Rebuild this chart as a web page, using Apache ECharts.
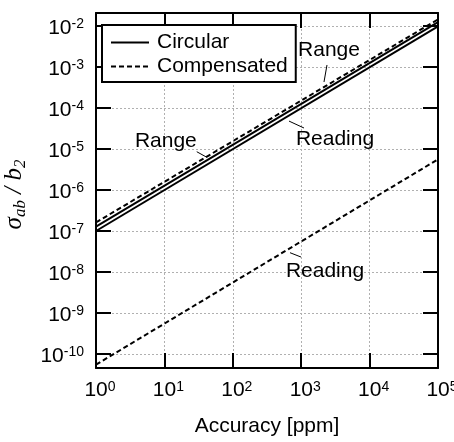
<!DOCTYPE html>
<html>
<head>
<meta charset="utf-8">
<title>Accuracy vs sigma_ab / b2</title>
<script src="https://cdn.jsdelivr.net/npm/echarts@6/dist/echarts.min.js"></script>
<style>
  html, body { margin: 0; padding: 0; background: #fff; }
  #main { width: 454px; height: 442px; }
</style>
</head>
<body>
<div id="main"></div>
<script>
// Accuracy in ppm (log axis endpoints of each straight line)
const accuracyPpm = [1, 100000];

// sigma_ab / b2 for each configuration and accuracy specification
const circularRange = [1.28e-7, 1.25e-2];
const circularReading = [1.0e-7, 9.8e-3];
const compensatedRange = [1.62e-7, 1.45e-2];
const compensatedReading = [5.5e-11, 5.6e-6];

// Annotation text anchors and leader lines, in data units [ppm, sigma]
const noteLabels = ['Range', 'Range', 'Reading', 'Reading'];
const noteAnchors = [[10.5, 1.57e-5], [2548, 2.6e-3], [3119, 1.75e-5], [2228, 1.06e-8]];
const noteLeaders = [
  [[29.7, 8.6e-6], [41.5, 6.3e-6]],
  [[2383, 1.12e-3], [2154, 4.3e-4]],
  [[663, 4.8e-5], [1099, 3.25e-5]],
  [[686, 2.96e-8], [993, 2.32e-8]]
];

const SANS = '"Liberation Sans", Arial, Helvetica, sans-serif';
const SERIF = '"Liberation Serif", "Times New Roman", serif';

const pairs = (xs, ys) => xs.map((x, i) => [x, ys[i]]);

// Decade labels written as 10 with a raised exponent
function powerLabel(v) {
  const e = Math.log10(v);
  const r = Math.round(e);
  if (Math.abs(e - r) > 1e-6) return '';
  return '{b|10}{e|' + r + '}';
}

const tickRich = {
  b: { fontSize: 21, fontFamily: SANS, color: '#000', lineHeight: 21, verticalAlign: 'bottom' },
  e: { fontSize: 14, fontFamily: SANS, color: '#000', lineHeight: 14, verticalAlign: 'top', padding: [0, 0, 12, 0] }
};

const yMin = Math.pow(10, -10.341);
const yMax = Math.pow(10, -1.683);

const frameTick = { show: true, inside: true, length: 15, lineStyle: { color: '#000', width: 2 } };
const frameLine = { show: true, onZero: false, lineStyle: { color: '#000', width: 2 } };
const gridDash = { show: true, lineStyle: { color: '#b0b0b0', width: 1, type: [2, 2] } };

const solid = { color: '#000', width: 2, type: 'solid' };
const dashed = { color: '#000', width: 2, type: [5, 3] };

const option = {
  animation: false,
  backgroundColor: '#fff',
  grid: { left: 96, right: 16, top: 13, bottom: 74, containLabel: false, outerBoundsMode: 'none' },
  legend: {
    left: 102, top: 25,
    orient: 'vertical',
    data: ['Circular', 'Compensated'],
    itemWidth: 38, itemHeight: 14, itemGap: 3,
    padding: [7, 8, 5, 8],
    borderColor: '#000', borderWidth: 2, borderRadius: 0,
    backgroundColor: '#fff',
    itemStyle: { opacity: 0 },
    textStyle: { fontSize: 21, fontFamily: SANS, color: '#000', padding: [0, 0, 0, 3] }
  },
  xAxis: [
    {
      type: 'log', min: 1, max: 100000, position: 'bottom',
      axisLine: frameLine, axisTick: frameTick, splitLine: gridDash,
      axisLabel: { formatter: powerLabel, rich: tickRich, margin: 8, padding: [4, 0, 0, 8] },
      name: 'Accuracy [ppm]', nameLocation: 'middle', nameGap: 48,
      nameTextStyle: { fontSize: 21, fontFamily: SANS, color: '#000' }
    },
    {
      type: 'log', min: 1, max: 100000, position: 'top',
      axisLine: frameLine, axisTick: frameTick,
      axisLabel: { show: false }, splitLine: { show: false }
    }
  ],
  yAxis: [
    {
      type: 'log', min: yMin, max: yMax, position: 'left',
      axisLine: frameLine, axisTick: frameTick, splitLine: gridDash,
      axisLabel: { formatter: powerLabel, rich: tickRich, margin: 12, padding: [4, 0, 0, 0], showMinLabel: false, showMaxLabel: false },
      name: '{s|σ}{sub|ab}{s| / b}{sub|2}', nameLocation: 'middle', nameGap: 55, nameRotate: 90,
      nameTextStyle: {
        padding: [0, 8, 0, 0],
        rich: {
          s: { fontSize: 25, fontFamily: SERIF, fontStyle: 'italic', color: '#000', lineHeight: 31 },
          sub: { fontSize: 17, fontFamily: SERIF, fontStyle: 'italic', color: '#000', verticalAlign: 'bottom' }
        }
      }
    },
    {
      type: 'log', min: yMin, max: yMax, position: 'right',
      axisLine: frameLine, axisTick: frameTick,
      axisLabel: { show: false }, splitLine: { show: false }
    }
  ],
  series: [
    { name: 'Circular', type: 'line', symbol: 'none', data: pairs(accuracyPpm, circularRange), lineStyle: solid, itemStyle: { color: '#000' } },
    { name: 'Circular', type: 'line', symbol: 'none', data: pairs(accuracyPpm, circularReading), lineStyle: solid, itemStyle: { color: '#000' } },
    { name: 'Compensated', type: 'line', symbol: 'none', data: pairs(accuracyPpm, compensatedRange), lineStyle: dashed, itemStyle: { color: '#000' } },
    { name: 'Compensated', type: 'line', symbol: 'none', data: pairs(accuracyPpm, compensatedReading), lineStyle: dashed, itemStyle: { color: '#000' } }
  ]
};

const chart = echarts.init(document.getElementById('main'), null, { renderer: 'canvas' });
chart.setOption(option);

// Place the "Range"/"Reading" call-outs through the axis scales
const toPx = (p) => chart.convertToPixel({ xAxisIndex: 0, yAxisIndex: 0 }, p);
const graphics = [];
noteLabels.forEach((label, i) => {
  const a = toPx(noteAnchors[i]);
  const p1 = toPx(noteLeaders[i][0]);
  const p2 = toPx(noteLeaders[i][1]);
  graphics.push({
    type: 'line', z: 50, silent: true,
    shape: { x1: p1[0], y1: p1[1], x2: p2[0], y2: p2[1] },
    style: { stroke: '#000', lineWidth: 1 }
  });
  graphics.push({
    type: 'text', z: 50, silent: true, x: a[0], y: a[1],
    style: { text: label, fontSize: 21, fontFamily: SANS, fill: '#000', align: 'center', verticalAlign: 'middle' }
  });
});
chart.setOption({ graphic: graphics });
</script>
</body>
</html>
